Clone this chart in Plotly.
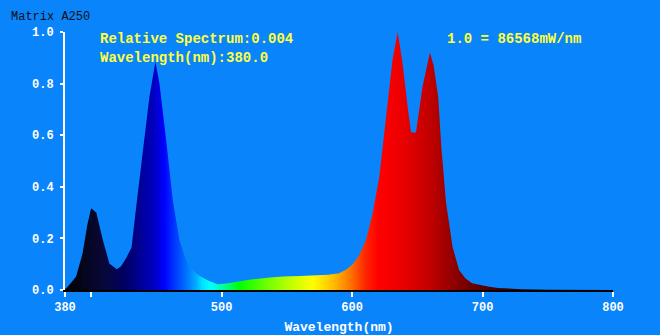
import plotly.graph_objects as go

# Relative spectral power of the lamp, sampled at irregular wavelengths (nm)
wavelength = [380, 381, 385, 388.5, 393.5, 397, 400, 404, 409, 414, 419.7, 423, 427, 431,
              434.5, 439.6, 444.7, 449.3, 452.4, 457.5, 462.6, 467.7, 472.8, 477, 483,
              490, 497, 505, 514, 521, 535, 547, 560, 572, 582, 590, 596, 600.5, 605,
              610.7, 615.8, 620.9, 626, 631, 635, 638.7, 642.6, 645.2, 649, 654, 659.7,
              662.5, 666, 668.5, 672, 677, 682, 687, 692, 700, 705, 712, 720, 730, 750, 800]
relative = [0.004, 0.007, 0.03, 0.052, 0.142, 0.25, 0.317, 0.30, 0.194, 0.103, 0.08, 0.092,
            0.125, 0.165, 0.32, 0.543, 0.749, 0.885, 0.80, 0.581, 0.349, 0.194, 0.116, 0.08,
            0.055, 0.036, 0.022, 0.026, 0.033, 0.040, 0.047, 0.052, 0.054, 0.056, 0.059, 0.065,
            0.08, 0.10, 0.13, 0.194, 0.297, 0.439, 0.659, 0.891, 1.0, 0.879, 0.71, 0.61, 0.61,
            0.788, 0.921, 0.87, 0.75, 0.55, 0.34, 0.168, 0.078, 0.045, 0.026, 0.017, 0.013,
            0.008, 0.005, 0.003, 0.001, 0.0]

# Colour of light at each wavelength, used as the fill gradient
color_nm = [380, 395, 410, 425, 440, 448, 452, 456, 462, 468, 475, 481, 485, 491, 498,
            506, 514, 535, 555, 570, 585, 598, 610, 620, 640, 660, 675, 690, 705, 730, 760,
            800]
color_hex = ["#000000", "#05051e", "#08083a", "#000060", "#0000a0", "#0000c0", "#0000e0",
             "#0000ff", "#0028ff", "#0050ff", "#0080ff", "#00b0ff", "#00e0ff", "#00ffff",
             "#00ffc0", "#00ff60", "#00ff00", "#70ff00", "#c8ff00", "#ffff00", "#ffc000",
             "#ff7800", "#ff2800", "#ff0000", "#e80000", "#c00000", "#980000", "#700000",
             "#500000", "#200000", "#000000", "#000000"]

x_ticks = [380, 400, 500, 600, 700, 800]
x_ticktext = ["380", "", "500", "600", "700", "800"]
y_ticks = [0.0, 0.2, 0.4, 0.6, 0.8, 1.0]
y_ticktext = ["0.0", "0.2", "0.4", "0.6", "0.8", "1.0"]

X_MIN, X_MAX = 380, 800
BG = "#0A84FA"
MONO = "Liberation Mono"

scale = [[(nm - X_MIN) / (X_MAX - X_MIN), c] for nm, c in zip(color_nm, color_hex)]

fig = go.Figure()
fig.add_trace(go.Scatter(
    x=wavelength, y=relative, mode="lines",
    line=dict(width=0, color="rgba(0,0,0,0)"),
    fill="tozeroy",
    fillgradient=dict(type="horizontal", colorscale=scale, start=X_MIN, stop=X_MAX),
    hoverinfo="skip", showlegend=False,
))

fig.update_layout(
    width=660, height=335,
    margin=dict(l=65, r=47, t=32, b=45),
    paper_bgcolor=BG, plot_bgcolor=BG,
    showlegend=False,
    xaxis=dict(
        range=[X_MIN, X_MAX], tickvals=x_ticks, ticktext=x_ticktext,
        showgrid=False, zeroline=False, automargin=False,
        showline=True, linecolor="black", linewidth=2, layer="below traces",
        ticks="outside", ticklen=5, tickwidth=2, tickcolor="white",
        tickfont=dict(family=MONO, size=12, color="white", weight="bold"),
        title=dict(text="Wavelength(nm)", standoff=10,
                   font=dict(family=MONO, size=13, color="white", weight="bold")),
    ),
    yaxis=dict(
        range=[0, 1], tickvals=y_ticks, ticktext=y_ticktext,
        showgrid=False, zeroline=False, automargin=False,
        showline=True, linecolor="white", linewidth=2,
        ticks="outside", ticklen=3, tickwidth=2, tickcolor="white",
        ticklabelstandoff=4,
        tickfont=dict(family=MONO, size=12, color="white", weight="bold"),
    ),
    yaxis2=dict(
        overlaying="y", side="left", range=[0, 1], tickvals=y_ticks,
        showticklabels=False, showgrid=False, zeroline=False, showline=False,
        automargin=False,
        ticks="inside", ticklen=3, tickwidth=2, tickcolor="white",
    ),
)

yellow = "#FFFF40"
notes = [
    dict(text="Relative Spectrum:0.004", x=0.060, y=0.973, color=yellow, size=14, bold=True),
    dict(text="Wavelength(nm):380.0", x=0.060, y=0.899, color=yellow, size=14, bold=True),
    dict(text="1.0 = 86568mW/nm", x=0.693, y=0.973, color=yellow, size=14, bold=True),
    dict(text="Matrix A250", x=-0.102, y=1.058, color="#101010", size=12, bold=False),
]
for n in notes:
    fig.add_annotation(
        text=n["text"], xref="paper", yref="paper", x=n["x"], y=n["y"],
        xanchor="left", yanchor="middle", showarrow=False,
        font=dict(family=MONO, size=n["size"], color=n["color"],
                  weight="bold" if n["bold"] else "normal"),
    )

fig.write_html("out.html")
